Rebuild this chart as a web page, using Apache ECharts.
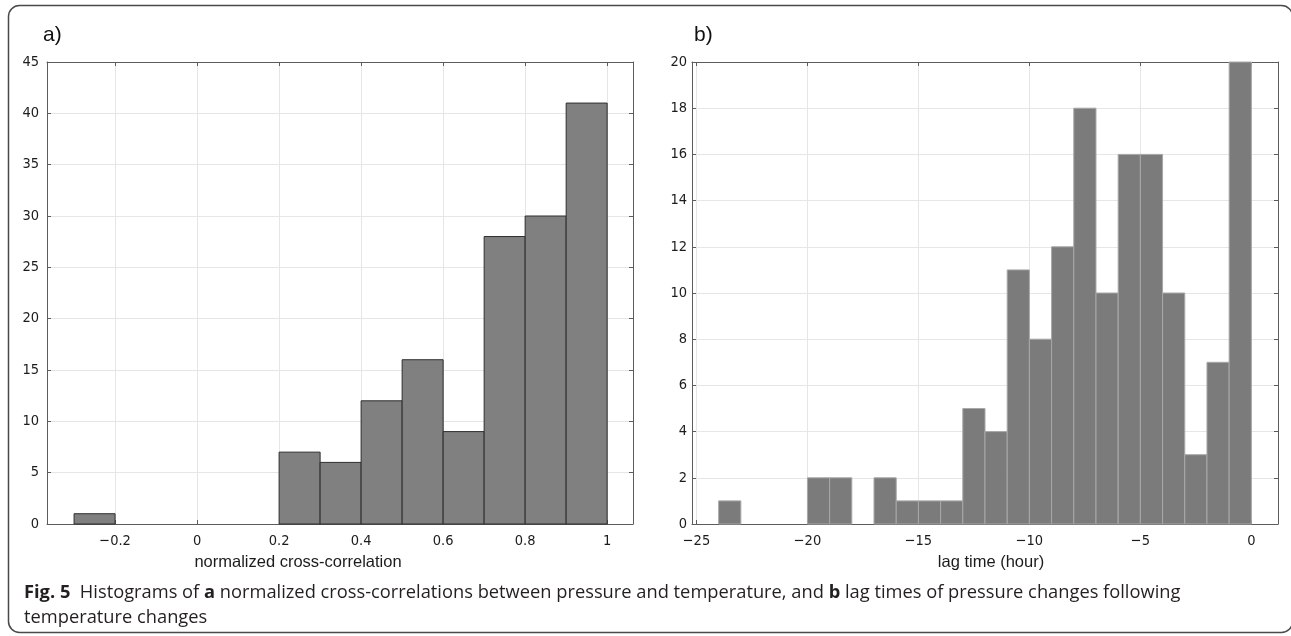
<!DOCTYPE html>
<html>
<head>
<meta charset="utf-8">
<script src="https://cdn.jsdelivr.net/npm/echarts@6/dist/echarts.min.js"></script>
<style>
    html, body {margin: 0; padding: 0; background: #fff;}
    #chart {width: 1291px; height: 636px;}
</style>
</head>
<body>
<div id="chart"></div>
<script>
// a) normalized cross-correlation, bins of 0.1
var corrEdges = [-0.3, -0.2, -0.1, 0, 0.1, 0.2, 0.3, 0.4, 0.5, 0.6, 0.7, 0.8, 0.9, 1.0];
var corrCounts = [1, 0, 0, 0, 0, 7, 6, 12, 16, 9, 28, 30, 41];
var corrTicks = [-0.2, 0, 0.2, 0.4, 0.6, 0.8, 1];

// b) lag time (hour), bins of 1 h
var lagEdges = [-24, -23, -22, -21, -20, -19, -18, -17, -16, -15, -14, -13, -12,
    -11, -10, -9, -8, -7, -6, -5, -4, -3, -2, -1, 0];
var lagCounts = [1, 0, 0, 0, 2, 2, 0, 2, 1, 1, 1, 5, 4, 11, 8, 12, 18, 10, 16, 16, 10, 3, 7, 20];
var lagTicks = [-25, -20, -15, -10, -5, 0];

var axisColor = '#5c5c5c';
var gridColor = '#e6e6e6';
var textColor = '#1c1c1c';
var tickFont = 'DejaVu Sans Condensed, DejaVu Sans';

function toBins(edges, counts) {
    let rows = [];
    for (let i = 0; i < counts.length; i++) {
        if (counts[i] > 0) {
            rows.push([edges[i], edges[i + 1], counts[i]]);
        }
    }
    return rows;
}

function binRenderer(fill, edge) {
    return function (params, api) {
        let p0 = api.coord([api.value(0), 0]);
        let p1 = api.coord([api.value(1), api.value(2)]);
        return {
            type: 'rect',
            shape: {x: p0[0], y: p1[1], width: p1[0] - p0[0], height: p0[1] - p1[1]},
            style: {fill: fill, stroke: edge, lineWidth: 1}
        };
    };
}

function fmt(v) {
    return String(+Number(v).toFixed(2)).replace('-', '\u2212');
}

function xAxes(gridIndex, min, max, ticks) {
    return [{
        type: 'value', gridIndex: gridIndex, position: 'bottom', min: min, max: max,
        axisLine: {show: true, onZero: false, lineStyle: {color: axisColor, width: 1}},
        axisTick: {show: true, inside: true, length: 4, customValues: ticks, lineStyle: {color: axisColor}},
        axisLabel: {customValues: ticks, formatter: fmt, margin: 10, color: textColor,
            fontFamily: tickFont, fontSize: 14.5},
        splitLine: {show: true, lineStyle: {color: gridColor, width: 1}}
    }, {
        type: 'value', gridIndex: gridIndex, position: 'top', min: min, max: max,
        axisLine: {show: true, onZero: false, lineStyle: {color: axisColor, width: 1}},
        axisTick: {show: true, inside: true, length: 4, customValues: ticks, lineStyle: {color: axisColor}},
        axisLabel: {show: false},
        splitLine: {show: false}
    }];
}

function yAxes(gridIndex, max, interval, margin) {
    return [{
        type: 'value', gridIndex: gridIndex, position: 'left', min: 0, max: max, interval: interval,
        axisLine: {show: true, onZero: false, lineStyle: {color: axisColor, width: 1}},
        axisTick: {show: true, inside: true, length: 4, lineStyle: {color: axisColor}},
        axisLabel: {margin: margin, color: textColor, fontFamily: tickFont, fontSize: 14.5},
        splitLine: {show: true, lineStyle: {color: gridColor, width: 1}}
    }, {
        type: 'value', gridIndex: gridIndex, position: 'right', min: 0, max: max, interval: interval,
        axisLine: {show: true, onZero: false, lineStyle: {color: axisColor, width: 1}},
        axisTick: {show: true, inside: true, length: 4, lineStyle: {color: axisColor}},
        axisLabel: {show: false},
        splitLine: {show: false}
    }];
}

var chart = echarts.init(document.getElementById('chart'));

var captionRich = {
    b: {fontFamily: 'Open Sans', fontWeight: 'bold', fontSize: 18.3, fill: '#231f20'},
    n: {fontFamily: 'Open Sans', fontSize: 18.3, fill: '#231f20'}
};

chart.setOption({
    animation: false,
    grid: [
        {left: 47, top: 62, width: 586, height: 462},
        {left: 692, top: 62, width: 586, height: 462}
    ],
    xAxis: xAxes(0, -0.366, 1.063, corrTicks).concat(xAxes(1, -25.2, 1.2, lagTicks)),
    yAxis: yAxes(0, 45, 5, 8).concat(yAxes(1, 20, 2, 5)),
    series: [{
        type: 'custom', xAxisIndex: 0, yAxisIndex: 0,
        renderItem: binRenderer('#808080', '#2e2e2e'),
        encode: {x: [0, 1], y: 2},
        data: toBins(corrEdges, corrCounts),
        z: 3
    }, {
        type: 'custom', xAxisIndex: 2, yAxisIndex: 2,
        renderItem: binRenderer('#7b7b7b', '#a8a8a8'),
        encode: {x: [0, 1], y: 2},
        data: toBins(lagEdges, lagCounts),
        z: 3
    }],
    graphic: [
        {type: 'rect', shape: {x: 8.5, y: 5.5, width: 1284, height: 627, r: 11},
            style: {fill: 'none', stroke: '#4a4a4a', lineWidth: 1.5}, z: -1, silent: true},
        {type: 'text', left: 43, top: 25,
            style: {text: 'a)', fontFamily: 'Liberation Sans', fontSize: 21, fill: '#111'}},
        {type: 'text', left: 694, top: 25,
            style: {text: 'b)', fontFamily: 'Liberation Sans', fontSize: 21, fill: '#111'}},
        {type: 'text', x: 298, y: 562,
            style: {text: 'normalized cross-correlation', fontFamily: 'Liberation Sans', fontSize: 16.5,
                fill: textColor, align: 'center', verticalAlign: 'middle'}},
        {type: 'text', x: 991, y: 562,
            style: {text: 'lag time (hour)', fontFamily: 'Liberation Sans', fontSize: 16.5,
                fill: textColor, align: 'center', verticalAlign: 'middle'}},
        {type: 'text', x: 24, y: 593,
            style: {
                text: '{b|Fig. 5}{n|  Histograms of }{b|a}{n| normalized cross-correlations between pressure and temperature, and }{b|b}{n| lag times of pressure changes following}',
                rich: captionRich, verticalAlign: 'middle'
            }},
        {type: 'text', x: 24, y: 618,
            style: {text: '{n|temperature changes}', rich: captionRich, verticalAlign: 'middle'}}
    ]
});
</script>
</body>
</html>
